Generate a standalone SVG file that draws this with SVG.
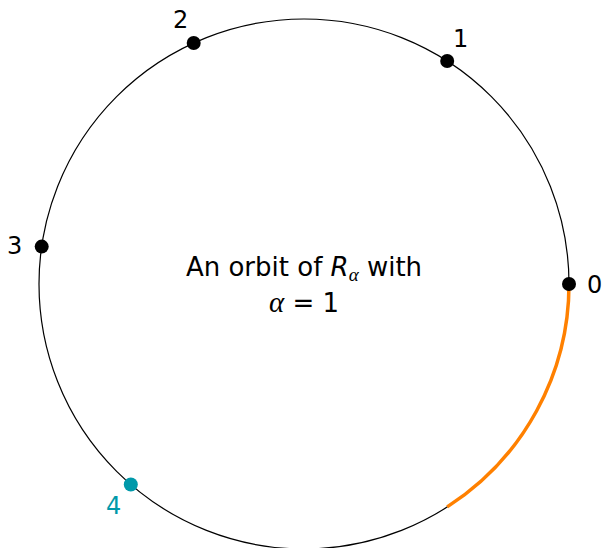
<svg xmlns="http://www.w3.org/2000/svg" width="604" height="548" viewBox="0 0 604 548">
<style>
.lbl{font-family:"DejaVu Sans","Liberation Sans",sans-serif;font-size:24px;fill:#000}
.t{font-family:"DejaVu Sans","Liberation Sans",sans-serif;font-size:26px;fill:#000}
.it{font-style:italic}
.m{font-family:"Liberation Serif","Times New Roman",serif;font-style:italic}
.dot{fill:#000}
</style>
<rect width="604" height="548" fill="#fff"/>
<g id="circle"><circle cx="304" cy="284" r="265" fill="none" stroke="#000" stroke-width="1.2"/></g>
<g id="connectors"><path id="arc" d="M569,284 A265,265 0 0 1 447.2,506.9" fill="none" stroke="#FF8000" stroke-width="3.5"/></g>
<g id="p0"><circle class="dot" cx="569" cy="284" r="7"/><text class="lbl" x="587" y="293">0</text></g>
<g id="p1"><circle class="dot" cx="447.2" cy="61" r="7"/><text class="lbl" x="453" y="47">1</text></g>
<g id="p2"><circle class="dot" cx="193.7" cy="43" r="7"/><text class="lbl" x="173" y="28">2</text></g>
<g id="p3"><circle class="dot" cx="41.7" cy="246.6" r="7"/><text class="lbl" x="7" y="254">3</text></g>
<g id="p4"><circle cx="130.8" cy="484.5" r="7" fill="#0099AA"/><text class="lbl" x="106" y="514" style="fill:#0099AA">4</text></g>
<g id="label">
<text class="t" x="304" y="276" text-anchor="middle">An orbit of <tspan class="it">R</tspan><tspan class="m" font-size="19" dy="5">α</tspan><tspan dy="-5"> with</tspan></text>
<text class="t" x="304" y="312" text-anchor="middle"><tspan class="m" font-size="29">α</tspan> = 1</text>
</g>
</svg>
